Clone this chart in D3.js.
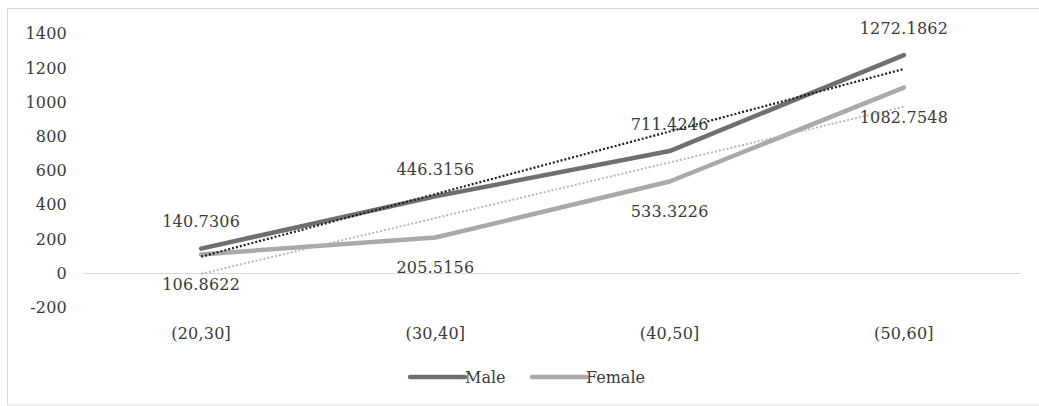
<!DOCTYPE html>
<html>
<head>
<meta charset="utf-8">
<script src="https://cdn.jsdelivr.net/npm/d3@7"></script>
<style>
  html, body { margin: 0; padding: 0; background: #fff; }
  svg { display: block; }
</style>
</head>
<body>
<svg id="chart" width="1039" height="406"></svg>
<script>
// ---- data ----
const categories = ["(20,30]", "(30,40]", "(40,50]", "(50,60]"];
const maleValues = [140.7306, 446.3156, 711.4246, 1272.1862];
const femaleValues = [106.8622, 205.5156, 533.3226, 1082.7548];
const yTicks = [-200, 0, 200, 400, 600, 800, 1000, 1200, 1400];
const seriesNames = ["Male", "Female"];

// ---- layout ----
const FONT = "'DejaVu Serif', serif";
const TXT = "#3a3a3a";
const svg = d3.select("#chart");
const plot = { left: 84, right: 1021, top: 33.3, bottom: 306.9 };

function styleText(sel, ls) {
  sel.style("font-family", FONT).style("font-size", "16px")
     .style("letter-spacing", (ls == null ? 0.2 : ls) + "px").style("fill", TXT);
}

svg.append("rect")
  .attr("x", 7.5).attr("y", 8.5)
  .attr("width", 1100).attr("height", 396.5)
  .attr("fill", "#fff").attr("stroke", "#dcdcdc").attr("stroke-width", 1);

const x = d3.scaleBand().domain(categories).range([plot.left, plot.right]).padding(0);
const xc = c => x(c) + x.bandwidth() / 2;
const y = d3.scaleLinear().domain([-200, 1400]).range([plot.bottom, plot.top]);

// y axis labels (no line, no ticks)
const yAxis = d3.axisLeft(y).tickValues(yTicks).tickSize(0).tickPadding(0).tickFormat(d => String(d));
const gy = svg.append("g").attr("transform", "translate(67,0)").call(yAxis);
gy.select(".domain").remove();
gy.selectAll("text").attr("dy", "0.35em").call(styleText);

// zero line
svg.append("line")
  .attr("x1", plot.left).attr("x2", plot.right)
  .attr("y1", Math.round(y(0)) + 0.5).attr("y2", Math.round(y(0)) + 0.5)
  .attr("stroke", "#d9d9d9").attr("stroke-width", 1);

// x axis labels
const xAxis = d3.axisBottom(x).tickSize(0).tickPadding(0);
const gx = svg.append("g").attr("transform", "translate(0,333)").call(xAxis);
gx.select(".domain").remove();
gx.selectAll("text").attr("dy", "0.35em").call(styleText);

// linear trendline (Excel-style least squares over category index)
function trend(vals) {
  const xs = vals.map((_, i) => i + 1);
  const mx = d3.mean(xs), my = d3.mean(vals);
  const b = d3.sum(xs.map((xi, i) => (xi - mx) * (vals[i] - my))) / d3.sum(xs.map(xi => (xi - mx) ** 2));
  const a = my - b * mx;
  return xs.map(xi => a + b * xi);
}

const line = d3.line().x((d, i) => xc(categories[i])).y(d => y(d));
const seriesColor = { Male: "#6f6f6f", Female: "#a9a9a9" };

// data lines
svg.append("path").datum(femaleValues)
  .attr("d", line).attr("fill", "none")
  .attr("stroke", seriesColor.Female).attr("stroke-width", 4.5)
  .attr("stroke-linejoin", "round").attr("stroke-linecap", "round");
svg.append("path").datum(maleValues)
  .attr("d", line).attr("fill", "none")
  .attr("stroke", seriesColor.Male).attr("stroke-width", 4.5)
  .attr("stroke-linejoin", "round").attr("stroke-linecap", "round");

// trendlines
svg.append("path").datum(trend(femaleValues))
  .attr("d", line).attr("fill", "none")
  .attr("stroke", "#b8b8b8").attr("stroke-width", 2)
  .attr("stroke-dasharray", "2 2");
svg.append("path").datum(trend(maleValues))
  .attr("d", line).attr("fill", "none")
  .attr("stroke", "#1e1e1e").attr("stroke-width", 2.2)
  .attr("stroke-dasharray", "2 2");

// data labels
svg.append("g").selectAll("text").data(maleValues).join("text")
  .attr("x", (d, i) => xc(categories[i]))
  .attr("y", d => y(d) - 27)
  .attr("dy", "0.35em")
  .attr("text-anchor", "middle")
  .text(d => d.toFixed(4))
  .call(styleText);
svg.append("g").selectAll("text").data(femaleValues).join("text")
  .attr("x", (d, i) => xc(categories[i]))
  .attr("y", d => y(d) + 30)
  .attr("dy", "0.35em")
  .attr("text-anchor", "middle")
  .text(d => d.toFixed(4))
  .call(styleText);

// legend
const legendItems = [
  { name: seriesNames[0], x1: 410, x2: 465, color: seriesColor.Male },
  { name: seriesNames[1], x1: 532, x2: 586, color: seriesColor.Female }
];
const lg = svg.append("g");
legendItems.forEach(it => {
  lg.append("line").attr("x1", it.x1).attr("x2", it.x2).attr("y1", 377).attr("y2", 377)
    .attr("stroke", it.color).attr("stroke-width", 4.5).attr("stroke-linecap", "round");
  lg.append("text").attr("x", it.x2).attr("y", 377).attr("dy", "0.35em")
    .text(it.name).call(styleText, 0);
});
</script>
</body>
</html>
